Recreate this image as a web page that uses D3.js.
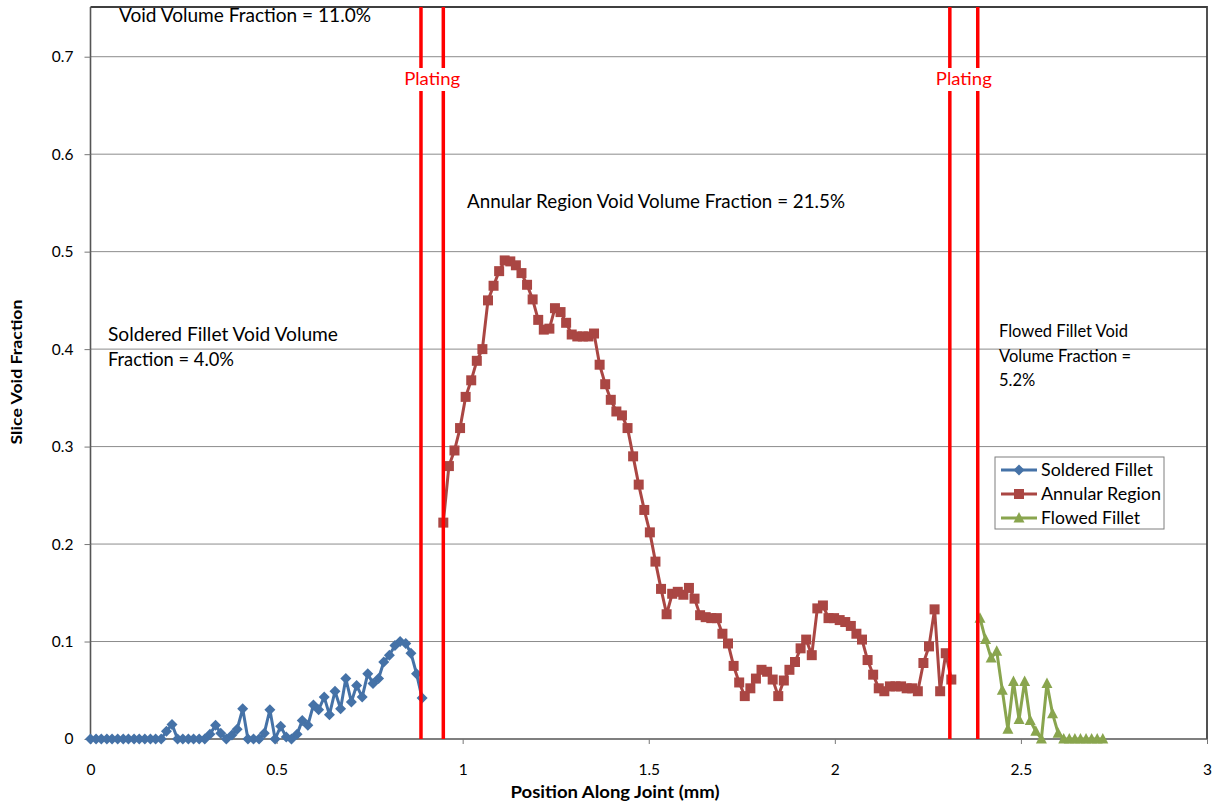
<!DOCTYPE html>
<html>
<head>
<meta charset="utf-8">
<script src="https://cdn.jsdelivr.net/npm/d3@7"></script>
<style>
  body { margin: 0; background: #fff; }
  svg { display: block; }
  text { font-family: Lato, "Open Sans", sans-serif; }
</style>
</head>
<body>
<svg id="chart" width="1216" height="805"></svg>
<script>
// Slice positions (mm) and void fractions for each region of the joint
const solderedX = [0.000,0.015,0.029,0.044,0.058,0.073,0.088,0.102,0.117,0.131,
  0.146,0.161,0.175,0.190,0.204,0.219,0.234,0.248,0.263,0.277,
  0.292,0.307,0.321,0.336,0.350,0.365,0.380,0.394,0.409,0.423,
  0.438,0.453,0.467,0.482,0.496,0.511,0.526,0.540,0.555,0.569,
  0.584,0.599,0.613,0.628,0.642,0.657,0.672,0.686,0.701,0.715,
  0.730,0.745,0.759,0.774,0.788,0.803,0.818,0.832,0.847,0.861,
  0.876,0.891];
const solderedY = [0,0,0,0,0,0,0,0,0,0,
  0,0,0,0,0.008,0.015,0,0,0,0,
  0,0,0.005,0.014,0.006,0,0.004,0.010,0.031,0,
  0,0,0.006,0.030,0,0.013,0.002,0,0.005,0.019,
  0.014,0.035,0.030,0.043,0.025,0.049,0.031,0.062,0.038,0.055,
  0.043,0.067,0.057,0.062,0.079,0.086,0.096,0.100,0.098,0.088,
  0.067,0.042];

const annularX = [0.948,0.963,0.978,0.993,1.008,1.023,1.038,1.053,1.068,1.083,
  1.098,1.113,1.128,1.143,1.158,1.173,1.188,1.203,1.218,1.233,
  1.248,1.263,1.278,1.293,1.308,1.323,1.338,1.353,1.368,1.383,
  1.398,1.413,1.428,1.443,1.458,1.473,1.488,1.503,1.518,1.533,
  1.548,1.563,1.578,1.593,1.608,1.623,1.638,1.653,1.668,1.683,
  1.698,1.713,1.728,1.743,1.758,1.773,1.788,1.803,1.818,1.833,
  1.848,1.863,1.878,1.893,1.908,1.923,1.938,1.953,1.968,1.983,
  1.998,2.013,2.028,2.043,2.058,2.073,2.088,2.103,2.118,2.133,
  2.148,2.163,2.178,2.193,2.208,2.223,2.238,2.253,2.268,2.283,
  2.298,2.313];
const annularY = [0.222,0.280,0.296,0.319,0.351,0.368,0.388,0.400,0.450,0.465,
  0.480,0.491,0.490,0.486,0.478,0.466,0.451,0.430,0.420,0.421,
  0.442,0.438,0.427,0.415,0.413,0.413,0.413,0.416,0.384,0.364,
  0.348,0.336,0.332,0.319,0.290,0.261,0.235,0.212,
  0.182,0.154,0.128,0.149,0.151,0.148,0.155,0.144,0.127,0.125,
  0.124,0.124,0.108,0.098,0.075,0.058,0.044,0.052,0.062,0.071,
  0.069,0.061,0.044,0.060,0.071,0.079,0.093,0.102,0.086,0.134,
  0.137,0.124,0.124,0.122,0.120,0.116,0.108,0.102,0.081,0.066,
  0.052,0.049,0.054,0.054,0.054,0.052,0.052,0.049,0.078,0.095,
  0.133,0.049,0.088,0.061];

const flowedX = [2.390,2.405,2.420,2.435,2.450,2.465,2.480,2.495,2.510,2.525,
  2.540,2.555,2.570,2.585,2.600,2.615,2.630,2.645,2.660,2.675,
  2.690,2.705,2.720];
const flowedY = [0.124,0.102,0.083,0.090,0.050,0.010,0.059,0.020,0.059,0.019,
  0.008,0.000,0.057,0.026,0.006,0,0,0,0,0,
  0,0,0];

// Plating boundaries (mm)
const platingX = [0.888, 0.948, 2.309, 2.384];

const seriesNames = ["Soldered Fillet", "Annular Region", "Flowed Fillet"];
const xTicks = [0, 0.5, 1, 1.5, 2, 2.5, 3];
const yTicks = [0, 0.1, 0.2, 0.3, 0.4, 0.5, 0.6, 0.7];

const svg = d3.select("#chart");
const plot = { left: 90.5, top: 7, right: 1207, bottom: 739 };

const x = d3.scaleLinear().domain([0, 3]).range([plot.left, plot.right]);
const y = d3.scaleLinear().domain([0, 0.751]).range([plot.bottom, plot.top]);

// Gridlines
svg.append("g")
  .selectAll("line")
  .data(yTicks.filter(d => d > 0))
  .join("line")
  .attr("x1", plot.left).attr("x2", plot.right)
  .attr("y1", d => y(d)).attr("y2", d => y(d))
  .attr("stroke", "#8c8c8c").attr("stroke-width", 1);

// Plot frame (top and right)
svg.append("path")
  .attr("d", `M${plot.left},${plot.top}H${plot.right}V${plot.bottom}`)
  .attr("fill", "none").attr("stroke", "#3f3f3f").attr("stroke-width", 1.8);

// Axes
const fmt = d => String(d);
const xAxis = svg.append("g")
  .attr("transform", `translate(0,${plot.bottom})`)
  .call(d3.axisBottom(x).tickValues(xTicks).tickFormat(fmt).tickSize(5).tickPadding(20));
const yAxis = svg.append("g")
  .attr("transform", `translate(${plot.left},0)`)
  .call(d3.axisLeft(y).tickValues(yTicks).tickFormat(fmt).tickSize(6).tickPadding(11));

[xAxis, yAxis].forEach(g => {
  g.select(".domain").attr("stroke", "#555").attr("stroke-width", 1.6);
  g.selectAll(".tick line").attr("stroke", "#777");
  g.selectAll(".tick text").attr("font-size", 15.5).attr("fill", "#000")
    .style("font-family", "Lato, sans-serif");
});
yAxis.select(".domain").attr("d", `M0,${plot.top}V${plot.bottom}`);
xAxis.select(".domain").attr("d", `M${plot.left},0H${plot.right}`);

// Axis titles
svg.append("text")
  .attr("x", 615).attr("y", 798)
  .attr("text-anchor", "middle").attr("font-size", 17).attr("font-weight", "bold")
  .attr("textLength", 209).attr("lengthAdjust", "spacingAndGlyphs")
  .text("Position Along Joint (mm)");
svg.append("text")
  .attr("transform", "translate(22,372) rotate(-90)")
  .attr("text-anchor", "middle").attr("font-size", 16).attr("font-weight", "bold")
  .attr("textLength", 145).attr("lengthAdjust", "spacingAndGlyphs")
  .text("Slice Void Fraction");

// Series styles
const colors = ["#4572A7", "#AA4643", "#89A54E"];
const markerPaths = [
  "M0,-5.5L5.5,0L0,5.5L-5.5,0Z",
  "M-5,-5H5V5H-5Z",
  "M0,-6L5.5,4.5H-5.5Z"
];
const series = [
  { xs: solderedX, ys: solderedY },
  { xs: annularX, ys: annularY },
  { xs: flowedX, ys: flowedY }
];

const line = d3.line().x(d => x(d[0])).y(d => y(d[1]));

series.forEach((s, i) => {
  const pts = s.xs.map((v, j) => [v, s.ys[j]]);
  const g = svg.append("g");
  g.append("path").datum(pts)
    .attr("d", line).attr("fill", "none")
    .attr("stroke", colors[i]).attr("stroke-width", 3).attr("stroke-linejoin", "round");
  g.selectAll("path.m").data(pts).join("path").attr("class", "m")
    .attr("d", markerPaths[i])
    .attr("transform", d => `translate(${x(d[0])},${y(d[1])})`)
    .attr("fill", colors[i]);
});

// Plating boundaries
svg.append("g").selectAll("line").data(platingX).join("line")
  .attr("x1", d => x(d)).attr("x2", d => x(d))
  .attr("y1", plot.top).attr("y2", plot.bottom)
  .attr("stroke", "#ff0000").attr("stroke-width", 3.5);

// "Plating" labels sit on a white box over the boundary lines
const plating = svg.append("g").selectAll("g")
  .data([[platingX[0], platingX[1]], [platingX[2], platingX[3]]])
  .join("g")
  .attr("transform", d => `translate(${(x(d[0]) + x(d[1])) / 2},85)`);
plating.append("rect")
  .attr("x", -29).attr("y", -17).attr("width", 58).attr("height", 23)
  .attr("fill", "#fff");
plating.append("text")
  .attr("text-anchor", "middle").attr("font-size", 18).attr("fill", "#ff0000")
  .attr("textLength", 56).attr("lengthAdjust", "spacingAndGlyphs")
  .text("Plating");

// Region annotations
const notes = [
  { x: 119, y: 22, size: 18.5, lines: ["Void Volume Fraction = 11.0%"], widths: [252] },
  { x: 467, y: 208, size: 18.5, lines: ["Annular Region Void Volume Fraction = 21.5%"], widths: [378] },
  { x: 108, y: 341, size: 18.5, lines: ["Soldered Fillet Void Volume", "Fraction = 4.0%"], widths: [230, 126] },
  { x: 999, y: 337, size: 16.5, lines: ["Flowed Fillet Void", "Volume Fraction =", "5.2%"], widths: [null, null, null] }
];
notes.forEach(n => {
  n.lines.forEach((l, k) => {
    const t = svg.append("text")
      .attr("x", n.x).attr("y", n.y + k * 24.5)
      .attr("font-size", n.size).attr("fill", "#000")
      .text(l);
    if (n.widths[k]) t.attr("textLength", n.widths[k]).attr("lengthAdjust", "spacingAndGlyphs");
  });
});

// Legend
const lg = svg.append("g").attr("transform", "translate(995,457)");
lg.append("rect").attr("width", 169).attr("height", 72)
  .attr("fill", "#fff").attr("stroke", "#7f7f7f").attr("stroke-width", 1);
const legendWidths = [112, 120, 99];
seriesNames.forEach((name, i) => {
  const row = lg.append("g").attr("transform", `translate(0,${13 + i * 24})`);
  row.append("line").attr("x1", 6).attr("x2", 42).attr("y1", 0).attr("y2", 0)
    .attr("stroke", colors[i]).attr("stroke-width", 3);
  row.append("path").attr("d", markerPaths[i]).attr("transform", "translate(24,0)").attr("fill", colors[i]);
  row.append("text").attr("x", 46).attr("y", 6).attr("font-size", 16.5)
    .attr("textLength", legendWidths[i]).attr("lengthAdjust", "spacingAndGlyphs")
    .text(name);
});
</script>
</body>
</html>
